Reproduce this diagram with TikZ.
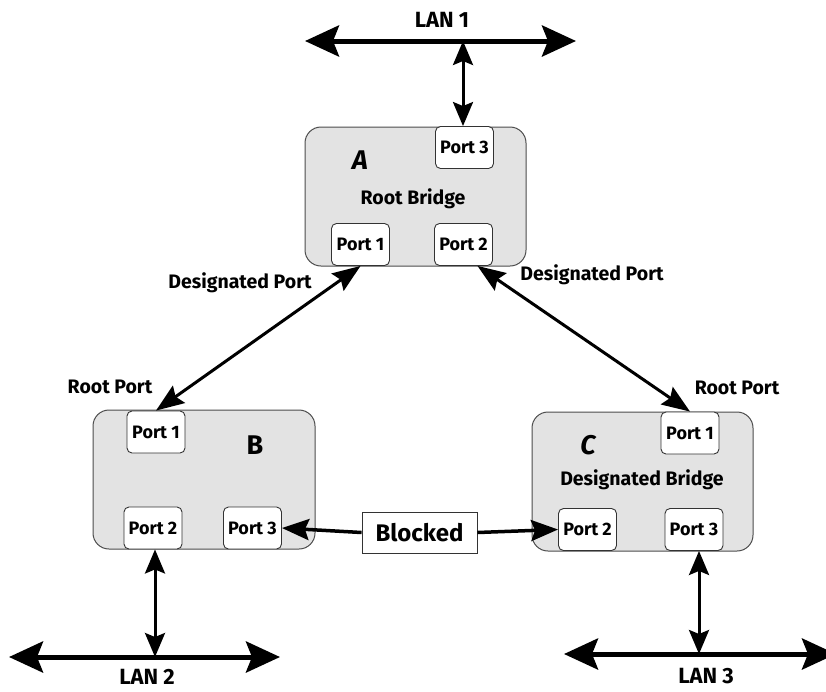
\documentclass[tikz,border=0pt]{standalone}
\usepackage{fontspec}
\setmainfont{Fira Sans}
\usetikzlibrary{arrows.meta,calc}
\begin{document}
\begin{tikzpicture}[x=1pt,y=-1pt,
  bridge/.style={draw=black!70, fill=black!11, rounded corners=16pt, line width=1pt, inner sep=0pt},
  portbox/.style={draw=black!80, fill=white, rounded corners=5pt, line width=0.9pt, inner sep=0pt,
     minimum width=58pt, minimum height=42pt, font=\bfseries\fontsize{18}{20}\selectfont},
  lbl/.style={inner sep=0pt, font=\bfseries\fontsize{19.5}{22}\selectfont},
  lanlbl/.style={inner sep=0pt, font=\bfseries\fontsize{22}{24}\selectfont},
  big/.style={inner sep=0pt, font=\bfseries\fontsize{27}{29}\selectfont},
  lanline/.style={line width=5pt, {Stealth[length=34pt,width=31pt,inset=6pt]}-{Stealth[length=34pt,width=31pt,inset=6pt]}},
  link/.style={line width=3pt, {Stealth[length=24pt,width=20pt,inset=4pt]}-{Stealth[length=24pt,width=20pt,inset=4pt]}},
  diag/.style={line width=3pt, {Stealth[length=28pt,width=21pt,inset=4pt]}-{Stealth[length=28pt,width=21pt,inset=4pt]}},
  blk/.style={line width=3.5pt, -{Stealth[length=27pt,width=21pt,inset=4pt]}}
]
\useasboundingbox (0,0) rectangle (826,691);

% bridges
\node[bridge, minimum width=221pt, minimum height=139pt] (A) at (415.5,196.5) {};
\node[bridge, minimum width=222pt, minimum height=139pt] (B) at (204,479.5) {};
\node[bridge, minimum width=221pt, minimum height=139pt] (C) at (642.5,481.5) {};

% ports
\node[portbox] (ap3) at (464.5,147.5) {Port 3};
\node[portbox] (ap1) at (360.5,244.5) {Port 1};
\node[portbox] (ap2) at (463.5,244.5) {Port 2};
\node[portbox] (bp1) at (156,432) {Port 1};
\node[portbox] (bp2) at (153,528) {Port 2};
\node[portbox] (bp3) at (252.5,528) {Port 3};
\node[portbox] (cp1) at (690,433) {Port 1};
\node[portbox] (cp2) at (587.5,529.5) {Port 2};
\node[portbox] (cp3) at (694,529.5) {Port 3};

% blocked
\node[draw=black!80, fill=white, line width=0.9pt, minimum width=115pt, minimum height=41pt, inner sep=0pt,
  font=\bfseries\fontsize{24}{26}\selectfont] (bl) at (419.5,532.5) {Blocked};

% bridge texts
\node[big, font=\bfseries\itshape\fontsize{27}{29}\selectfont] (la) at (360,160) {A};
\node[lbl] (rb) at (413,199) {Root Bridge};
\node[big] (lb) at (255,445) {B};
\node[big, font=\bfseries\itshape\fontsize{27}{29}\selectfont] (lc) at (588,445) {C};
\node[lbl] (db) at (642,480) {Designated Bridge};

% port role labels
\node[lbl] (dpl) at (240,283) {Designated Port};
\node[lbl] (dpr) at (592,275) {Designated Port};
\node[lbl] (rpl) at (110,387) {Root Port};
\node[lbl] (rpr) at (737,388) {Root Port};

% LANs
\coordinate (l1a) at (305,41);
\coordinate (l1b) at (576,41);
\coordinate (l1m) at (463,41);
\coordinate (l2a) at (9,657);
\coordinate (l2b) at (280,657);
\coordinate (l2m) at (155,657);
\coordinate (l3a) at (564,654);
\coordinate (l3b) at (836,654);
\coordinate (l3m) at (699,654);
\node[lanlbl] (lan1) at (442,20) {LAN 1};
\node[lanlbl] (lan2) at (147,677) {LAN 2};
\node[lanlbl] (lan3) at (706,676) {LAN 3};

\draw[lanline] (l1a) -- (l1b);
\draw[lanline] (l2a) -- (l2b);
\draw[lanline] (l3a) -- (l3b);

\draw[link] (l1m) -- (l1m |- ap3.north);
\draw[link] (l2m) -- (l2m |- bp2.south);
\draw[link] (l3m) -- (l3m |- cp3.south);

% links between bridges
\draw[diag] (ap1.south) -- (bp1.north);
\draw[diag] ([xshift=14pt]ap2.south) -- (cp1.north);

\draw[blk] (bl.west) -- (bp3.east);
\draw[blk] (bl.east) -- (cp2.west);
\end{tikzpicture}
\end{document}
